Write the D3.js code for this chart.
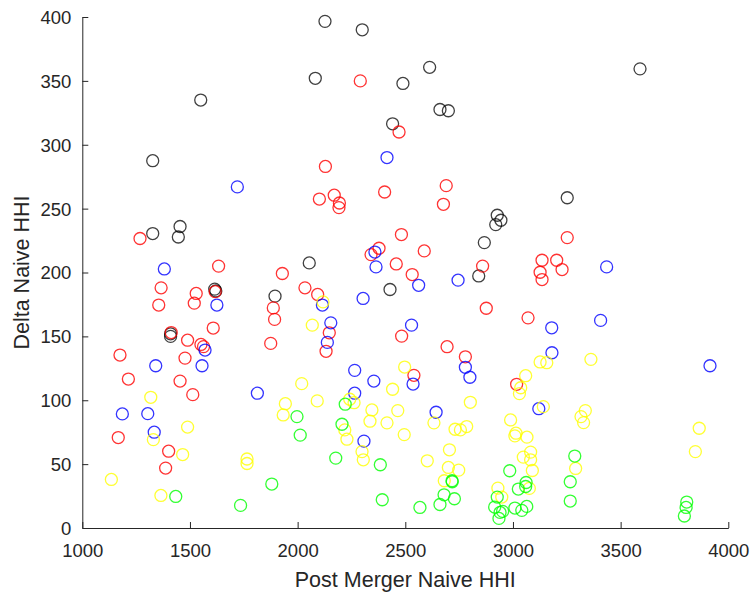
<!DOCTYPE html>
<html>
<head>
<meta charset="utf-8">
<script src="https://cdn.jsdelivr.net/npm/d3@7"></script>
<style>
  body { margin: 0; background: #fff; }
  svg { display: block; font-family: "Liberation Sans", Arial, Helvetica, sans-serif; }
</style>
</head>
<body>
<script>
// post merger HHI vs delta HHI, one array per colour group
const black = [[1550,335],[1327,287.5],[2127,396.6],[2300,390],[2082,352],[2489,348],[2613,360.6],[2661,327.6],
  [2700,326.6],[2441,316.4],[3590,359.4],[3252,258.5],[1327,230.5],[1454,236],[1446,227.8],[1615,187],[1620,185.5],
  [1410,152],[1410,150],[2054,207.5],[2429,186.7],[2927,244.8],[2944,240.9],[2920,237.5],[2867,223.4],[2841,197.3],
  [1895,181.5]];

const red = [[2291,350],[2471,310],[2129,283],[2690,268],[2404,263],[2101,257.5],[2170,260.5],[2194,254.4],
  [2192,250.8],[2677,253.4],[1268,226.6],[1633,205],[1366,188],[1617,185],[1529,183.6],[1520,176],[1355,174.5],
  [1608,156.5],[1413,153],[1489,147],[1551,143.7],[1563,142],[1477,133],[1175,135.4],[1214,116.6],[1454,115],
  [1513,104.4],[1167,70.8],[1401,60.1],[1387,46.9],[2482,229.7],[2588,216.9],[2378,219],[2341,214],[2458,206.7],
  [2532,198.4],[1929,199.2],[2859,205],[2876,172],[2034,188],[2093,182.8],[1887,172.3],[1893,163.3],[2147,152.8],
  [2132,138.3],[1875,144.5],[2483,150.2],[2694,141.9],[2779,134],[2540,119.5],[3252,227.3],[3135,209.6],
  [3203,209.6],[3228,202.3],[3126,200.2],[3135,194.5],[3070,164.5],[3017,112.5]];

const blue = [[1720,267],[2415,290],[1381,202.8],[1625,174.5],[1570,139.3],[1341,127],[1556,127],[1813,105.5],
  [1186,89.3],[1304,89.5],[1334,75],[2359,216],[2364,204.4],[2562,190],[2745,194],[2115,174.5],[2154,160.6],
  [2138,145.3],[2304,179.7],[2529,158.8],[2779,125.8],[2800,118],[2265,123.4],[2354,115],[2536,112.7],
  [2265,105.5],[2643,90.6],[2308,68],[3435,204.4],[3407,162.5],[3180,156.7],[3181,137.2],[3915,127],[3120,93.4]];

const yellow = [[1318,102.3],[1330,69.2],[1489,79],[1466,57.5],[1135,38],[1365,25.5],[1765,54],[1765,50.5],
  [2118,177],[2068,158.8],[2497,126],[2019,113],[2441,108.6],[2242,100.8],[2262,98.1],[2091,99.5],[1943,97.3],
  [1933,88.5],[2345,92.4],[2465,91.9],[2802,98.4],[2336,83.6],[2415,82.3],[2633,82.3],[2495,73.1],[2731,77.3],
  [2756,76.8],[2785,79.4],[2219,76.8],[2229,69.5],[2299,59.8],[2305,53.4],[2602,52.6],[2705,61.2],[2700,47.4],
  [2748,45.3],[2681,37],[2930,31.2],[2948,24.2],[3126,130],[3157,129.4],[3362,132],[3059,119.2],[3036,109.8],
  [3030,105.2],[3141,95],[3336,91.9],[3316,87.2],[3328,82.5],[2989,84.6],[3014,74.2],[3009,72.1],[3065,71.1],
  [3865,78.1],[3847,59.8],[3082,59.4],[3048,55.5],[3082,53.4],[3090,45],[3291,46.6],[3076,31]];

const green = [[1434,24.7],[1735,17.7],[2221,96.9],[1997,87.2],[2012,72.7],[2206,81.2],[2177,54.7],[2384,49.5],
  [2717,37],[2718,36.2],[1880,34.4],[2680,26],[2661,18.4],[2728,22.9],[2393,22.1],[2568,16.1],[2985,44.8],
  [3287,56.3],[3266,36.2],[3266,21.1],[3061,35.6],[3059,32.5],[3025,30.5],[2927,24.2],[2915,16.4],[2940,12.2],
  [2952,13],[2935,7.5],[3009,15.6],[3041,13.8],[3064,16.9],[3807,20.3],[3804,16.1],[3796,9.4]];

const groups = [
  {pts: black, color: '#000000'},
  {pts: red, color: '#ff0000'},
  {pts: blue, color: '#0000ff'},
  {pts: yellow, color: '#ffff00'},
  {pts: green, color: '#00ff00'}
];

const xTicks = [1000, 1500, 2000, 2500, 3000, 3500, 4000];
const yTicks = [0, 50, 100, 150, 200, 250, 300, 350, 400];

const width = 752;
const height = 594;
const margin = {left: 82.3, right: 23.7, top: 17, bottom: 66};
const axisColor = '#262626';

const svg = d3.select('body').append('svg')
  .attr('width', width)
  .attr('height', height);

const x = d3.scaleLinear().domain([1000, 4000]).range([margin.left, width - margin.right]);
const y = d3.scaleLinear().domain([0, 400]).range([height - margin.bottom, margin.top]);

// points
for (const g of groups) {
  svg.append('g').selectAll('circle').data(g.pts).enter().append('circle')
    .attr('cx', d => x(d[0]))
    .attr('cy', d => y(d[1]))
    .attr('r', 6)
    .attr('fill', 'none')
    .attr('stroke', g.color)
    .attr('stroke-opacity', g.color === '#000000' ? 0.75 : 0.8)
    .attr('stroke-width', 1.3);
}

// axes, matlab style ticks pointing in
const xAxis = svg.append('g')
  .attr('transform', `translate(0,${height - margin.bottom})`)
  .call(d3.axisBottom(x).tickValues(xTicks).tickFormat(d3.format('d'))
    .tickSizeInner(-6).tickSizeOuter(0).tickPadding(16));

const yAxis = svg.append('g')
  .attr('transform', `translate(${margin.left},0)`)
  .call(d3.axisLeft(y).tickValues(yTicks).tickFormat(d3.format('d'))
    .tickSizeInner(-6).tickSizeOuter(0).tickPadding(11));

for (const ax of [xAxis, yAxis]) {
  ax.select('.domain').attr('stroke', axisColor).attr('stroke-width', 1);
  ax.selectAll('.tick line').attr('stroke', axisColor).attr('stroke-width', 1);
  ax.selectAll('.tick text')
    .attr('fill', axisColor)
    .style('font-size', '18.5px')
    .style('font-family', '"Liberation Sans", Arial, Helvetica, sans-serif');
}
xAxis.selectAll('.tick text').attr('dy', '0.71em');
yAxis.selectAll('.tick text').attr('dy', '0.35em');

svg.append('text')
  .attr('x', (margin.left + width - margin.right) / 2)
  .attr('y', 587)
  .attr('text-anchor', 'middle')
  .attr('fill', axisColor)
  .style('font-size', '21.5px')
  .text('Post Merger Naive HHI');

svg.append('text')
  .attr('transform', `translate(28.5,${(margin.top + height - margin.bottom) / 2}) rotate(-90)`)
  .attr('text-anchor', 'middle')
  .attr('fill', axisColor)
  .style('font-size', '21.5px')
  .text('Delta Naive HHI');
</script>
</body>
</html>
